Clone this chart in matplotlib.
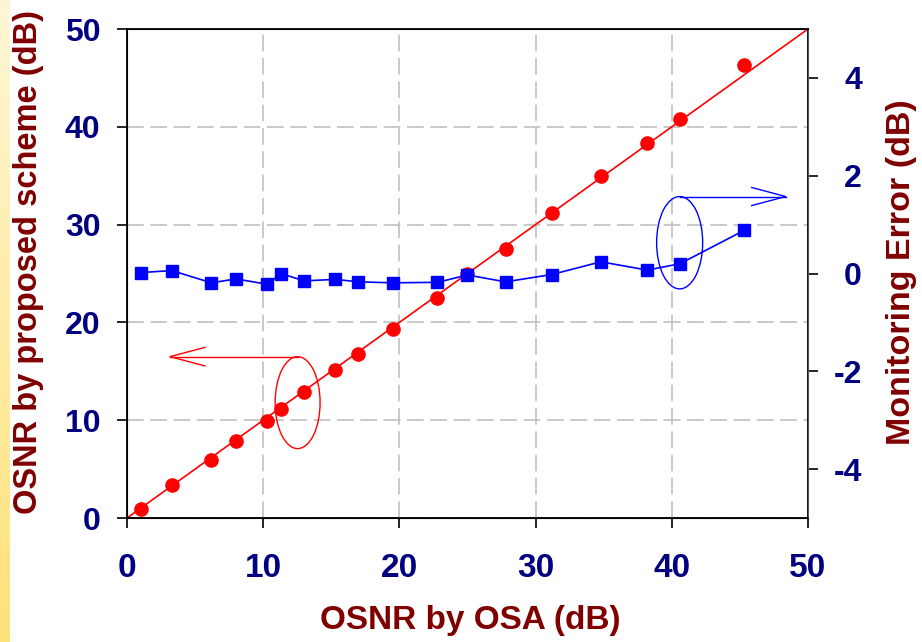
import matplotlib
matplotlib.use("Agg")
import matplotlib.pyplot as plt
from matplotlib.patches import Ellipse
import numpy as np

# OSNR read by the OSA (x) and by the proposed scheme (left axis)
osnr_osa = [1.0, 3.3, 6.2, 8.0, 10.3, 11.3, 13.0, 15.3, 17.0, 19.5,
            22.8, 25.0, 27.8, 31.2, 34.8, 38.2, 40.6, 45.3]
osnr_scheme = [0.9, 3.4, 5.9, 7.9, 9.9, 11.1, 12.9, 15.1, 16.8, 19.3,
               22.5, 25.0, 27.5, 31.2, 35.0, 38.3, 40.8, 46.3]
# monitoring error (right axis)
mon_error = [0.02, 0.06, -0.19, -0.11, -0.22, 0.0, -0.15, -0.12, -0.17, -0.19,
             -0.18, -0.03, -0.17, -0.02, 0.24, 0.07, 0.20, 0.88]

x_ticks = [0, 10, 20, 30, 40, 50]
left_ticks = [0, 10, 20, 30, 40, 50]
right_ticks = [-4, -2, 0, 2, 4]

NAVY = "#000080"
MAROON = "#800000"

plt.rcParams['font.family'] = ['Liberation Sans', 'DejaVu Sans']
plt.rcParams['font.weight'] = 'bold'
plt.rcParams['axes.unicode_minus'] = False

fig = plt.figure(figsize=(9.22, 6.42), dpi=100)

# yellow strip on the left edge
strip = fig.add_axes([0, 0, 0.01, 1])
grad = np.linspace(0, 1, 256).reshape(-1, 1)
strip.imshow(grad, aspect='auto', cmap=matplotlib.colors.LinearSegmentedColormap.from_list(
    "y", ["#FFE27A", "#FFF6D6"]), origin='lower')
strip.axis('off')

ax = fig.add_axes([0.1377, 0.1931, 0.7386, 0.7617])
ax.set_xlim(0, 50)
ax.set_ylim(0, 50)

ax.grid(True, color="#c0c0c0", linestyle=(0, (10, 4)), linewidth=1.2)
ax.set_axisbelow(True)

# y = x reference line
ax.plot([0, 50], [0, 50], color="red", linewidth=1.2, zorder=2)
ax.plot(osnr_osa, osnr_scheme, 'o', color="red", markersize=9.5, zorder=3)

ax.set_xticks(x_ticks)
ax.set_yticks(left_ticks)
ax.tick_params(axis='both', direction='out', length=7, width=1.2,
               labelcolor=NAVY)
ax.tick_params(axis='y', pad=12, labelsize=23)
ax.tick_params(axis='x', pad=18, labelsize=24)
for spine in ax.spines.values():
    spine.set_linewidth(1.3)

ax2 = ax.twinx()
ax2.set_ylim(-5, 5)
ax2.plot(osnr_osa, mon_error, 's-', color="blue", markersize=8,
         linewidth=1.2, zorder=3)
ax2.set_yticks(right_ticks)
ax2.tick_params(axis='y', direction='out', length=7, width=1.2,
                labelsize=23, labelcolor=NAVY, pad=32)
for lab in ax2.get_yticklabels():
    lab.set_horizontalalignment('right')
ax2.spines['right'].set_color("#555555")

# ellipse + arrow annotations (drawn in left-axis units)
ax.add_patch(Ellipse((12.53, 11.8), 3.3, 9.4, fill=False,
                     edgecolor="red", linewidth=1.0, zorder=4))
ax.plot([12.53, 3.16], [16.5, 16.5], color="red", linewidth=1.0, zorder=4)
ax.plot([5.73, 3.16, 5.73], [17.45, 16.5, 15.55], color="red", linewidth=1.0, zorder=4)

ax.add_patch(Ellipse((40.58, 28.15), 3.38, 9.44, fill=False,
                     edgecolor="blue", linewidth=1.0, zorder=4))
ax.plot([40.58, 48.36], [32.87, 32.87], color="blue", linewidth=1.0, zorder=4)
ax.plot([45.87, 48.36, 45.87], [33.8, 32.87, 31.95], color="blue", linewidth=1.0, zorder=4)

fig.text(0.51, 1 - 620 / 642, "OSNR by OSA (dB)", color=MAROON,
         fontsize=24, fontweight='bold', ha='center', va='center')
fig.text(29 / 922, 1 - 262 / 642, "OSNR by proposed scheme (dB)", color=MAROON,
         fontsize=23.5, fontweight='bold', ha='center', va='center', rotation=90)
fig.text(901 / 922, 1 - 272 / 642, "Monitoring Error (dB)", color=MAROON,
         fontsize=24.5, fontweight='bold', ha='center', va='center', rotation=90)

fig.savefig("out.png", dpi=100)
